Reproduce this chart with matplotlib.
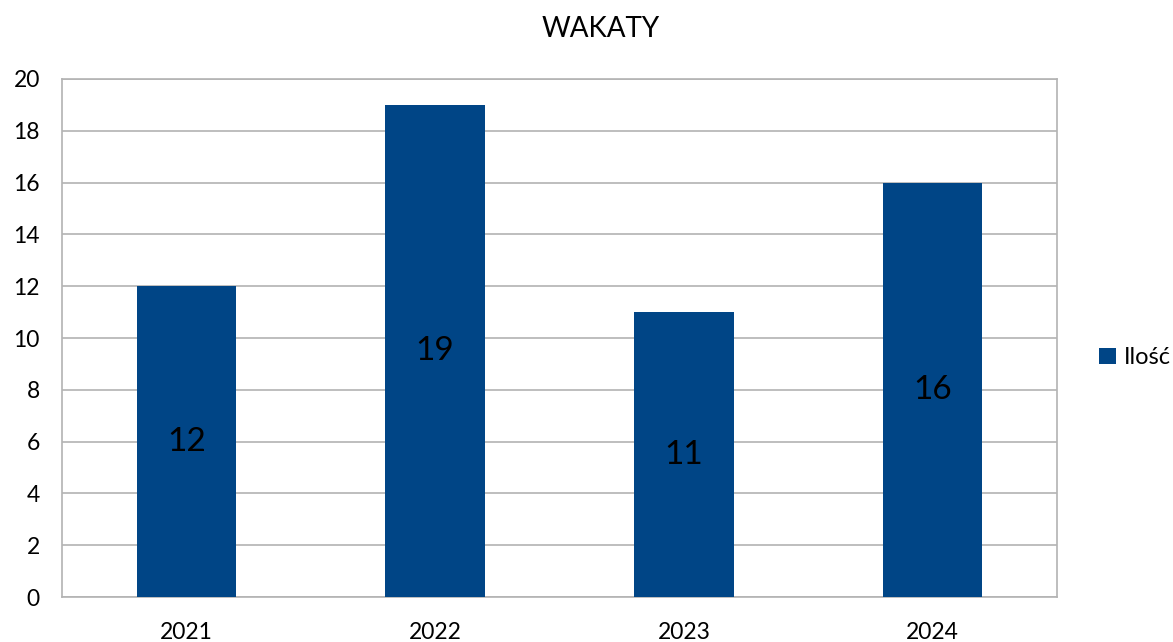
import matplotlib.pyplot as plt
import numpy as np

plt.rcParams['font.family'] = ['Lato', 'DejaVu Sans']

years = ['2021', '2022', '2023', '2024']
ilosc = [12, 19, 11, 16]

fig = plt.figure(figsize=(11.73, 6.42), dpi=100)
ax = fig.add_axes([0.0529, 0.070, 0.8482, 0.807])

x = np.arange(len(years))
bars = ax.bar(x, ilosc, width=0.4, color='#004586', label='Ilość', zorder=3)

for b, v in zip(bars, ilosc):
    ax.text(b.get_x() + b.get_width() / 2, v / 2, str(v), ha='center', va='center',
            fontsize=24, color='black', zorder=4)

ax.set_xlim(-0.5, len(years) - 0.5)
ax.set_ylim(0, 20)
ax.set_yticks(range(0, 21, 2))
ax.set_xticks(x)
ax.set_xticklabels(years)
ax.tick_params(axis='both', length=0, labelsize=16.5)
ax.tick_params(axis='y', pad=16)
ax.tick_params(axis='x', pad=18)
ax.grid(axis='y', color='#b3b3b3', linewidth=1.2, zorder=0)
for s in ax.spines.values():
    s.set_color('#b3b3b3')
    s.set_linewidth(1.2)

fig.text(0.512, 0.955, 'WAKATY', ha='center', va='center', fontsize=20)

fig.legend(loc='center left', bbox_to_anchor=(0.937, 0.443), frameon=False,
           fontsize=17, handlelength=0.7, handleheight=0.7, handletextpad=0.35,
           borderaxespad=0, borderpad=0)

plt.savefig('out.png', dpi=100)
